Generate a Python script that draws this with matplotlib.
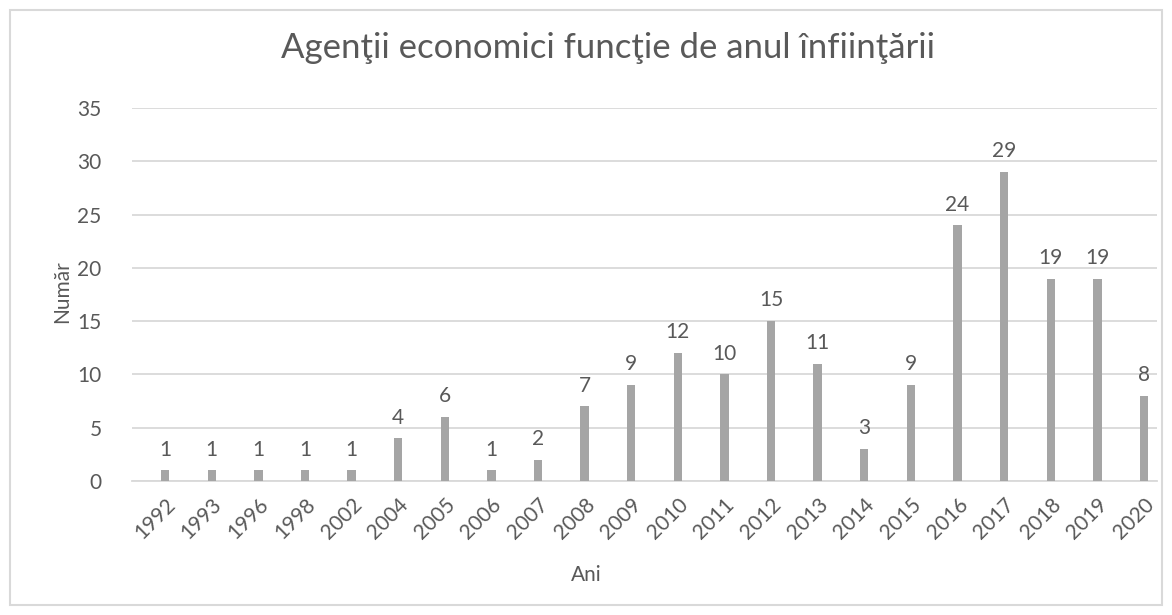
import matplotlib
matplotlib.use("Agg")
import matplotlib.pyplot as plt
from matplotlib.patches import Rectangle

# data
years = ['1992', '1993', '1996', '1998', '2002', '2004', '2005', '2006', '2007', '2008', '2009',
         '2010', '2011', '2012', '2013', '2014', '2015', '2016', '2017', '2018', '2019', '2020']
counts = [1, 1, 1, 1, 1, 4, 6, 1, 2, 7, 9, 12, 10, 15, 11, 3, 9, 24, 29, 19, 19, 8]

plt.rcParams['font.family'] = ['Lato', 'DejaVu Sans']
txt = '#595959'
fs = 15

fig = plt.figure(figsize=(11.72, 6.15), dpi=100)
fig.patches.append(Rectangle((10 / 1172, 10 / 615), 1152 / 1172, 595 / 615, transform=fig.transFigure,
                             fill=False, edgecolor='#D9D9D9', linewidth=1.5))
ax = fig.add_axes([132 / 1172, 1 - 481 / 615, 1025 / 1172, 373 / 615])

x = range(len(years))
bars = ax.bar(x, counts, width=0.18, color='#A5A5A5', zorder=3)
for xi, v in zip(x, counts):
    ax.text(xi, v + 1.0, str(v), ha='center', va='bottom', fontsize=fs, color=txt)

ax.set_xlim(-0.71, 21.28)
ax.set_ylim(0, 35)
ax.set_yticks(range(0, 36, 5))
ax.set_xticks(list(x))
ax.set_xticklabels(years, rotation=45, ha='right', rotation_mode='anchor')
ax.tick_params(axis='both', length=0, labelsize=fs, labelcolor=txt)
ax.tick_params(axis='x', pad=10)
ax.tick_params(axis='y', pad=22)
ax.grid(axis='y', color='#D9D9D9', linewidth=1.3, zorder=0)
for s in ['top', 'right', 'left']:
    ax.spines[s].set_visible(False)
ax.spines['bottom'].set_color('#D9D9D9')
ax.spines['bottom'].set_linewidth(1.3)

fig.text(608 / 1172, 1 - 48 / 615, 'Agenţii economici funcţie de anul înfiinţării', ha='center', va='center',
         fontsize=25, color=txt)
fig.text(62 / 1172, 1 - 292 / 615, 'Număr', ha='center', va='center', rotation=90, fontsize=fs, color=txt)
fig.text(0.5, 1 - 575 / 615, 'Ani', ha='center', va='center', fontsize=fs, color=txt)

fig.savefig('out.png', dpi=100)
